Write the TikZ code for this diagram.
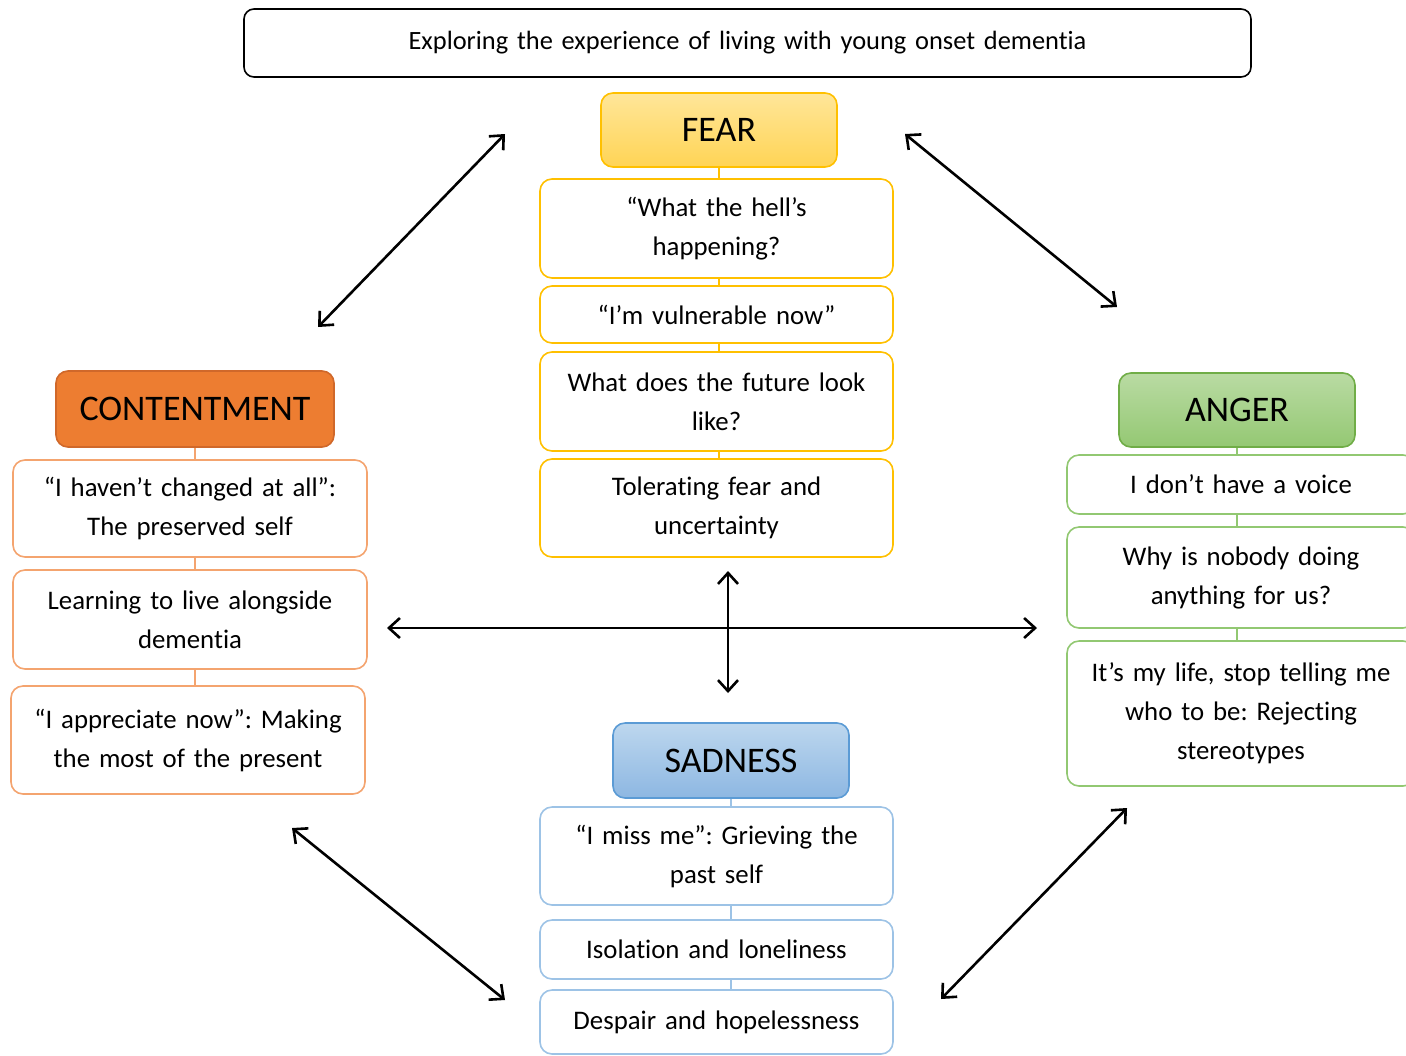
\documentclass[tikz,border=0pt]{standalone}
\usepackage{fontspec}
\setmainfont{Carlito}[Ligatures=NoCommon]
\usetikzlibrary{arrows.meta}
\definecolor{fearB}{HTML}{FFC000}
\definecolor{fearT}{HTML}{FFE699}
\definecolor{fearD}{HTML}{FFD455}
\definecolor{contF}{HTML}{ED7D31}
\definecolor{contD}{HTML}{D0682A}
\definecolor{contB}{HTML}{F4A46F}
\definecolor{angT}{HTML}{B9DBA3}
\definecolor{angD}{HTML}{94C873}
\definecolor{angB}{HTML}{70AD47}
\definecolor{angL}{HTML}{92C872}
\definecolor{sadT}{HTML}{BDD7EE}
\definecolor{sadD}{HTML}{8DB7E2}
\definecolor{sadB}{HTML}{5B9BD5}
\definecolor{sadL}{HTML}{9DC3E6}
\newcommand\mybox[7]{%
  \pgfmathsetmacro\bw{(#5-#3)*0.5}%
  \pgfmathsetmacro\bh{(#6-#4)*0.5}%
  \pgfmathsetmacro\tw{(#5-#3)*0.5-4}%
  \node[#2, minimum width=\bw pt, minimum height=\bh pt, text width=\tw pt] (#1) at ({(#3+#5)/2},{(#4+#6)/2}) {#7};}
\begin{document}
\frenchspacing
\begin{tikzpicture}[x=0.5pt,y=-0.5pt,
  base/.style={rounded corners=6pt, inner sep=0pt, align=center, line width=0.8pt},
  body/.style={base, fill=white, font=\fontsize{13.4}{19.5}\selectfont\frenchspacing},
  head/.style={base, font=\fontsize{18}{20}\selectfont},
  fearbox/.style={body, draw=fearB},
  fearhead/.style={head, draw=fearB, top color=fearT, bottom color=fearD},
  contbox/.style={body, draw=contB},
  conthead/.style={head, draw=contD, fill=contF},
  angbox/.style={body, draw=angL},
  anghead/.style={head, draw=angB, top color=angT, bottom color=angD},
  sadbox/.style={body, draw=sadL},
  sadhead/.style={head, draw=sadB, top color=sadT, bottom color=sadD},
  titlebox/.style={base, draw=black, fill=white, rounded corners=5pt, font=\fontsize{13.2}{15}\selectfont},
  link/.style={line width=0.8pt},
  dbl/.style={line width=1.3pt, {Straight Barb[length=5.5pt,width=10pt]}-{Straight Barb[length=5.5pt,width=10pt]}}
]
\clip (0,0) rectangle (1406,1055);
\useasboundingbox (0,0) rectangle (1406,1055);
\fill[white] (0,0) rectangle (1406,1055);

% title
\mybox{title}{titlebox}{244}{9}{1251}{77}{Exploring the experience of living with young onset dementia}

% FEAR
\mybox{fh}{fearhead}{601}{93}{837}{167}{FEAR}
\mybox{f1}{fearbox}{540}{179}{893}{278}{“What the hell’s\\happening?}
\mybox{f2}{fearbox}{540}{286}{893}{343}{“I’m vulnerable now”}
\mybox{f3}{fearbox}{540}{352}{893}{451}{What does the future look\\like?}
\mybox{f4}{fearbox}{540}{459}{893}{557}{Tolerating fear and\\uncertainty}
\draw[link, fearB] (fh.south) -- (fh.south |- f1.north);
\draw[link, fearB] (fh.south |- f1.south) -- (fh.south |- f2.north);
\draw[link, fearB] (fh.south |- f2.south) -- (fh.south |- f3.north);
\draw[link, fearB] (fh.south |- f3.south) -- (fh.south |- f4.north);

% CONTENTMENT
\mybox{ch}{conthead}{56}{371}{334}{447}{CONTENTMENT}
\mybox{c1}{contbox}{13}{460}{367}{557}{“I haven’t changed at all”:\\The preserved self}
\mybox{c2}{contbox}{13}{570}{367}{669}{Learning to live alongside\\dementia}
\mybox{c3}{contbox}{11}{686}{365}{794}{“I appreciate now”: Making\\the most of the present}
\draw[link, contB] (ch.south) -- (ch.south |- c1.north);
\draw[link, contB] (ch.south |- c1.south) -- (ch.south |- c2.north);
\draw[link, contB] (ch.south |- c2.south) -- (ch.south |- c3.north);

% ANGER
\mybox{ah}{anghead}{1119}{373}{1355}{447}{ANGER}
\mybox{a1}{angbox}{1067}{455}{1415}{514}{I don’t have a voice}
\mybox{a2}{angbox}{1067}{527}{1415}{628}{Why is nobody doing\\anything for us?}
\mybox{a3}{angbox}{1067}{641}{1415}{786}{It’s my life, stop telling me\\who to be: Rejecting\\stereotypes}
\draw[link, angL] (ah.south) -- (ah.south |- a1.north);
\draw[link, angL] (ah.south |- a1.south) -- (ah.south |- a2.north);
\draw[link, angL] (ah.south |- a2.south) -- (ah.south |- a3.north);

% SADNESS
\mybox{sh}{sadhead}{613}{723}{849}{798}{SADNESS}
\mybox{s1}{sadbox}{540}{807}{893}{905}{“I miss me”: Grieving the\\past self}
\mybox{s2}{sadbox}{540}{920}{893}{979}{Isolation and loneliness}
\mybox{s3}{sadbox}{540}{990}{893}{1054}{Despair and hopelessness}
\draw[link, sadL] (sh.south) -- (sh.south |- s1.north);
\draw[link, sadL] (sh.south |- s1.south) -- (sh.south |- s2.north);
\draw[link, sadL] (sh.south |- s2.south) -- (sh.south |- s3.north);

% arrows
\coordinate (tl1) at (505,134); \coordinate (tl2) at (318,327);
\coordinate (tr1) at (905,134); \coordinate (tr2) at (1117,307);
\coordinate (bl1) at (292,828); \coordinate (bl2) at (505,1000);
\coordinate (br1) at (1127,808); \coordinate (br2) at (941,999);
\coordinate (hz1) at (387,628); \coordinate (hz2) at (1037,628);
\coordinate (vt1) at (728,571); \coordinate (vt2) at (728,693);
\draw[dbl] (tl1) -- (tl2);
\draw[dbl] (tr1) -- (tr2);
\draw[dbl] (bl1) -- (bl2);
\draw[dbl] (br1) -- (br2);
\draw[dbl] (hz1) -- (hz2);
\draw[dbl] (vt1) -- (vt2);
\end{tikzpicture}
\end{document}
